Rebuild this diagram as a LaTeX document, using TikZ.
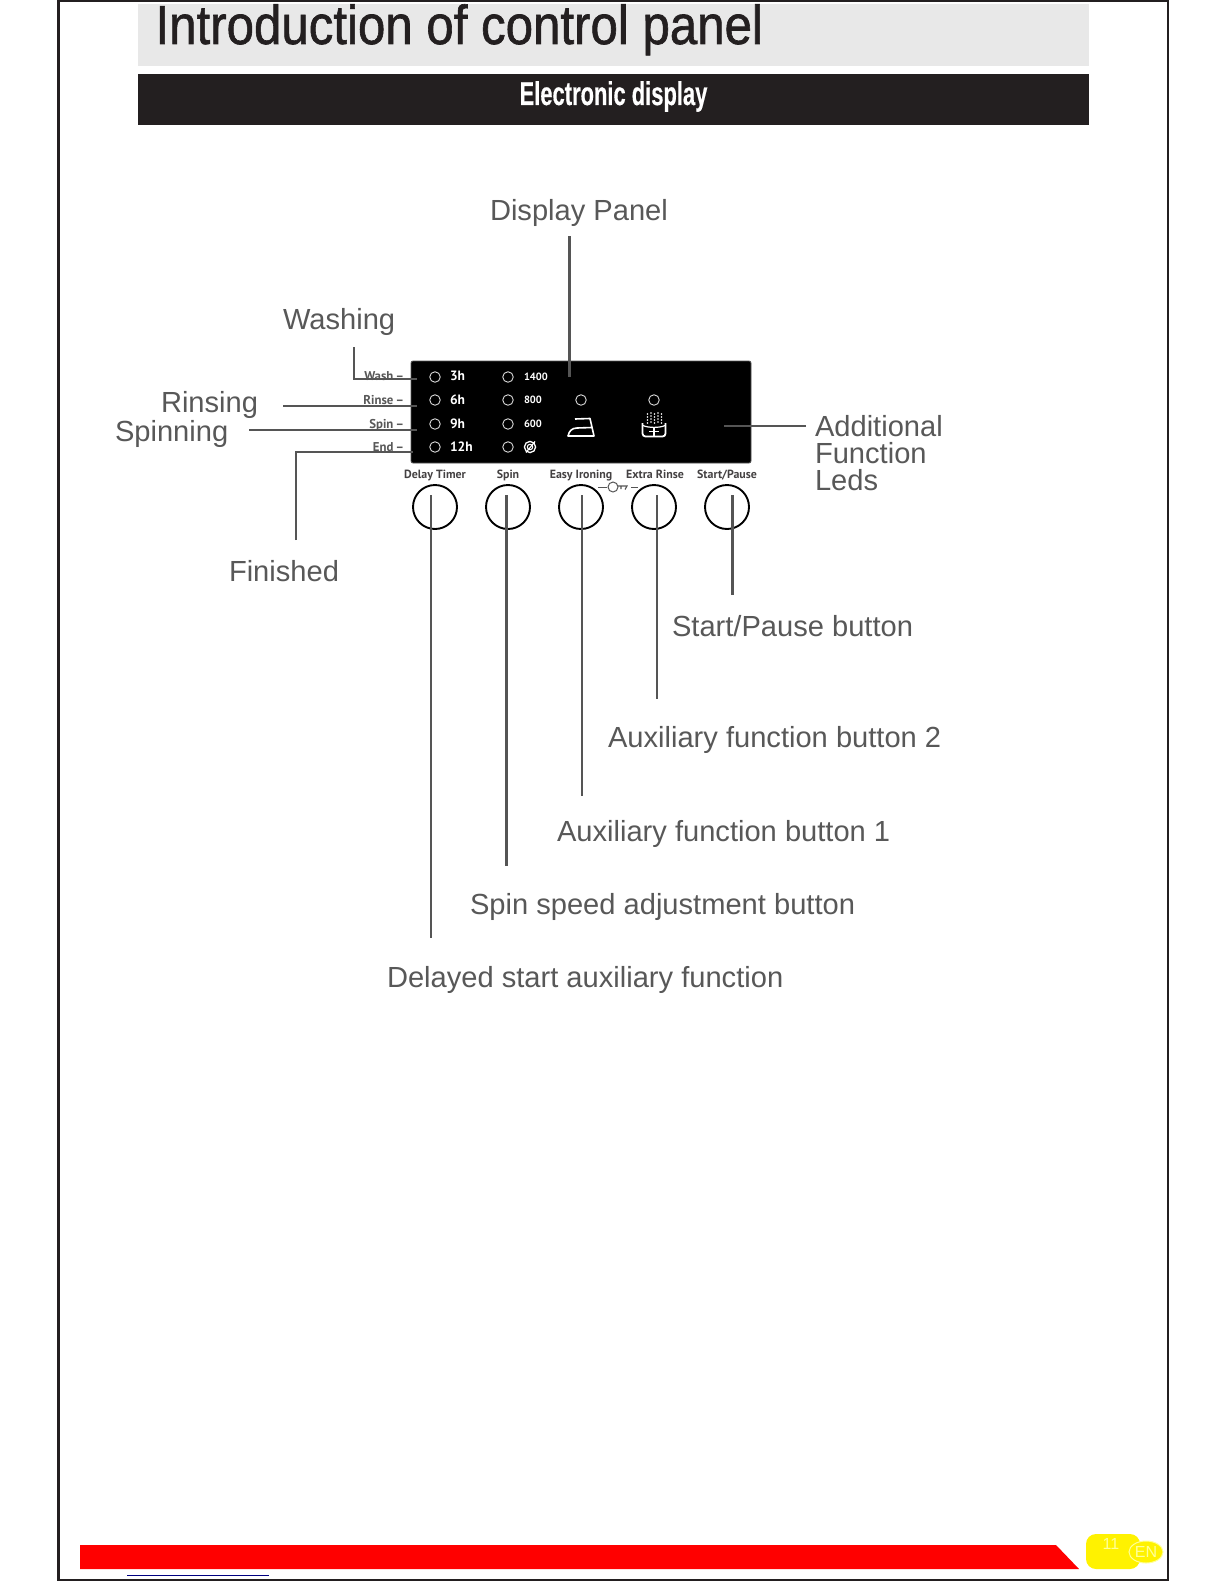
\documentclass[tikz,border=0pt]{standalone}
\usepackage{fontspec}
\usetikzlibrary{shapes.geometric}
\setmainfont{Liberation Sans}
\newfontfamily\panelfont{PT Sans}
\newfontfamily\titlefont[FakeBold=1.2]{Liberation Sans}
\newfontfamily\subfont[FakeBold=0.5]{Liberation Sans}
\definecolor{lab}{HTML}{585858}
\definecolor{ink}{HTML}{231F20}
\definecolor{band}{HTML}{E8E8E8}
\definecolor{conn}{HTML}{555555}
\definecolor{palet}{HTML}{FFFF99}
\tikzset{
  px/.style={inner sep=0pt,outer sep=0pt},
  callout/.style={px,anchor=base west,text=lab,font=\fontsize{29.1}{29.1}\selectfont},
  conn/.style={draw=conn,line width=1.8pt},
  connb/.style={draw=conn,line width=3pt},
  led/.style={circle,draw=white!85!black,line width=0.9pt,minimum size=10.5pt,px,fill=black},
  ledtxt/.style={px,anchor=base west,text=white,font=\panelfont\bfseries\fontsize{13.5}{13.5}\selectfont},
  spdtxt/.style={px,anchor=base west,text=white,font=\panelfont\bfseries\fontsize{10.5}{10.5}\selectfont},
  sidetxt/.style={px,anchor=base east,text=lab,font=\panelfont\bfseries\fontsize{12.8}{12.8}\selectfont},
  btntxt/.style={px,anchor=base,text=ink!85,font=\panelfont\bfseries\fontsize{11.9}{11.9}\selectfont},
  btn/.style={circle,draw=black,line width=1.9pt,minimum size=44pt,px},
}
\begin{document}
\begin{tikzpicture}[x=1pt,y=-1pt]
\useasboundingbox (0,0) rectangle (1224,1584);
% page frame
\draw[ink,line width=2.6pt] (58.5,1) -- (58.5,1580) -- (1168,1580) -- (1168,1) -- cycle;
% headings
\fill[band] (138,4) rectangle (1089,66);
\fill[ink] (138,74) rectangle (1089,125);
\node[px,anchor=base west,text=ink] (title) at (155.5,44) {\scalebox{0.895}[1]{\titlefont\fontsize{55}{55}\selectfont Introduction of control panel}};
\node[px,anchor=base,text=white] (sub) at (613.5,105) {\scalebox{0.665}[1]{\subfont\fontsize{33}{33}\selectfont\bfseries Electronic display}};
% panel
\node[px,fill=black,rounded corners=2pt,minimum width=340pt,minimum height=102pt,anchor=north west,draw=conn,line width=0.8pt] (panel) at (411,361) {};
% leds
\foreach \n/\y in {a/377,b/400,c/424,d/447}{
  \node[led] (l1\n) at (435,\y) {};
  \node[led] (l2\n) at (508,\y) {};
}
\node[led] (iron) at (581,400) {};
\node[led] (rinse) at (654,400) {};
\node[ledtxt] (t1) at (450,380.5) {3h};
\node[ledtxt] (t2) at (450,404.5) {6h};
\node[ledtxt] (t3) at (450,428) {9h};
\node[ledtxt] (t4) at (450,451.5) {12h};
\node[spdtxt] (s1) at (524,380) {1400};
\node[spdtxt] (s2) at (524,403.5) {800};
\node[spdtxt] (s3) at (524,427) {600};
% spiral icon
\draw[white,line width=1.3pt] (530,447) circle (5.6pt);
\draw[white,line width=1.1pt] (530,447) circle (2.7pt);
\draw[white,line width=1.2pt] (526,452.5) -- (535,441.5);
% iron icon
\draw[white,line width=1.6pt,line join=round] (575,419) -- (590,418.5) -- (594,436) -- (568,436) .. controls (569,431) and (572,428) .. (577,428) -- (592,427.5);
% extra-rinse icon
\draw[white,line width=1.8pt,rounded corners=3pt] (642.5,423) -- (642.5,436.5) -- (665.5,436.5) -- (665.5,423);
\draw[white,line width=1.2pt] (643,425.5) .. controls (648,428) and (660,428) .. (665,425.5);
\draw[white,line width=1.6pt] (649,431.5) -- (659,431.5) (654,427.5) -- (654,435.5);
\foreach \x/\d in {647.5/1,651/0,654.5/1,658/0,661.5/1}{
  \foreach \y in {413,416,419,422}{\fill[white] (\x,\y+\d) circle (0.85pt);}
}
% side labels
\node[sidetxt] (w) at (404,380.5) {Wash\,–};
\node[sidetxt] (r) at (404,404.5) {Rinse\,–};
\node[sidetxt] (sp) at (404,428) {Spin\,–};
\node[sidetxt] (e) at (404,451.5) {End\,–};
% buttons
\node[btn] (b1) at (435,507) {};
\node[btn] (b2) at (508,507) {};
\node[btn] (b3) at (581,507) {};
\node[btn] (b4) at (654,507) {};
\node[btn] (b5) at (727,507) {};
\node[btntxt] (bt1) at (435,478) {Delay Timer};
\node[btntxt] (bt2) at (508,478) {Spin};
\node[btntxt] (bt3) at (581,478) {Easy Ironing};
\node[btntxt] (bt4) at (655,478) {Extra Rinse};
\node[btntxt] (bt5) at (727,478) {Start/Pause};
% key symbol
\draw[conn,line width=1pt] (598,487) -- (607,487) (631,487) -- (638,487);
\draw[conn,line width=1pt] (613,487) circle (5pt);
\draw[conn,line width=1.1pt] (618,486) -- (627,486) -- (625,489.5) (621,486) -- (621,489);
% callouts
\node[callout] (dp) at (490,220) {Display Panel};
\node[callout] (wa) at (283,329) {Washing};
\node[callout] (ri) at (161,412) {Rinsing};
\node[callout] (spn) at (115,441) {Spinning};
\node[callout] (fi) at (229,581) {Finished};
\node[callout,align=left,anchor=north west,font=\fontsize{29.1}{27.3}\selectfont] (af) at (815,415) {Additional\\Function\\Leds};
\node[callout] (sb) at (672,636) {Start/Pause button};
\node[callout] (a2) at (608,747) {Auxiliary function button 2};
\node[callout] (a1) at (557,841) {Auxiliary function button 1};
\node[callout] (ss) at (470,914) {Spin speed adjustment button};
\node[callout] (ds) at (387,987) {Delayed start auxiliary function};
% connectors
\coordinate (dp0) at (569,236); \coordinate (dp1) at (569,377);
\coordinate (wa0) at (354,347); \coordinate (wa1) at (417,379);
\coordinate (ri0) at (283,406); \coordinate (ri1) at (417,406);
\coordinate (sp0) at (249,430); \coordinate (sp1) at (417,430);
\coordinate (fi0) at (296,540); \coordinate (fi1) at (413,452);
\coordinate (af0) at (806,426); \coordinate (af1) at (724,426);
\coordinate (q1) at (431,495); \coordinate (q1e) at (431,938);
\coordinate (q2) at (506,495); \coordinate (q2e) at (506,866);
\coordinate (q3) at (582,495); \coordinate (q3e) at (582,796);
\coordinate (q4) at (657,495); \coordinate (q4e) at (657,699);
\coordinate (q5) at (732,495); \coordinate (q5e) at (732,595);
\draw[connb] (dp0) -- (dp1);
\draw[conn] (wa0) |- (wa1);
\draw[conn] (ri0) -- (ri1);
\draw[conn] (sp0) -- (sp1);
\draw[conn] (fi0) |- (fi1);
\draw[conn] (af0) -- (af1);
\draw[conn] (q1) -- (q1e);
\draw[connb] (q2) -- (q2e);
\draw[conn] (q3) -- (q3e);
\draw[conn] (q4) -- (q4e);
\draw[connb] (q5) -- (q5e);
% footer
\fill[red] (80,1545) -- (1056,1545) -- (1079,1569) -- (80,1569) -- cycle;
\draw[blue!50!black,line width=0.8pt] (127,1575.5) -- (269,1575.5);
\fill[yellow,rounded corners=10pt] (1086,1534) rectangle (1140,1569);
\node[px,fill=yellow,draw=palet,line width=1pt,ellipse,minimum width=34pt,minimum height=22pt] (en) at (1146,1552) {};
\node[px,text=palet,font=\fontsize{16}{16}\selectfont] (pg) at (1111,1544) {11};
\node[px,text=palet,font=\fontsize{16}{16}\selectfont] (ent) at (en) {EN};
\end{tikzpicture}
\end{document}
